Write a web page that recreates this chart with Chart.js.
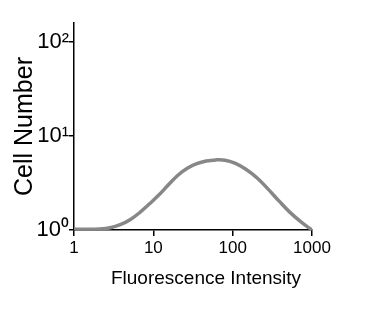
<!DOCTYPE html>
<html>
<head>
<meta charset="utf-8">
<script src="https://cdn.jsdelivr.net/npm/chart.js@4/dist/chart.umd.min.js"></script>
<style>
  html, body { margin: 0; padding: 0; background: #fff; }
  #wrap { width: 369px; height: 314px; }
</style>
</head>
<body>
<div id="wrap"><canvas id="myChart"></canvas></div>
<script>
// fluorescence histogram (log-log)
var intensity = [1, 2.12, 2.95, 3.89, 5.14, 6.78, 8.95, 11.8, 15.5, 20.4, 26.8, 35.3, 46.4, 61.1, 80.3,
                 106.6, 146.8, 202, 278, 383, 528, 726, 1000];
var cellNumber = [1.02, 1.025, 1.063, 1.145, 1.295, 1.54, 1.9, 2.37, 3.03, 3.83, 4.55, 5.08, 5.43, 5.58, 5.54,
                  5.14, 4.44, 3.6, 2.74, 2.04, 1.54, 1.22, 1.0];
var xTicks = [1, 10, 100, 1000];
var yTicks = [1, 10, 100];
var yTickLabels = ["10\u2070", "10\u00b9", "10\u00b2"];
var xTitle = "Fluorescence Intensity";
var yTitle = "Cell Number";

var points = intensity.map(function (x, i) {
    return { x: x, y: cellNumber[i] };
});

var labelFont = 'Liberation Sans, Arial, sans-serif';

// x title sits a bit right of the plot centre in the original
var xTitlePlugin = {
    id: 'xTitle',
    afterDraw: function (chart) {
        var c = chart.ctx;
        c.save();
        c.fillStyle = '#000';
        c.font = '19px ' + labelFont;
        c.textAlign = 'center';
        c.textBaseline = 'middle';
        c.fillText(xTitle, chart.chartArea.left + (chart.chartArea.right - chart.chartArea.left) / 2 + 13, 279);
        c.restore();
    }
};

var ctx = document.getElementById('myChart').getContext('2d');
var chart = new Chart(ctx, {
    type: 'line',
    data: {
        datasets: [{
            label: "Cells",
            data: points,
            borderColor: 'rgb(135, 135, 135)',
            borderWidth: 3.5,
            pointRadius: 0,
            tension: 0.4,
            fill: false
        }]
    },
    options: {
        responsive: true,
        maintainAspectRatio: false,
        animation: false,
        layout: { padding: { left: 0, right: 57, top: 23, bottom: 0 } },
        plugins: { legend: { display: false }, tooltip: { enabled: false } },
        scales: {
            x: {
                type: 'logarithmic',
                min: 1,
                max: 1000,
                afterBuildTicks: function (scale) {
                    scale.ticks = xTicks.map(function (v) { return { value: v }; });
                },
                afterFit: function (scale) { scale.height = 84; },
                ticks: {
                    color: '#000',
                    font: { family: labelFont, size: 17 },
                    padding: 2,
                    maxRotation: 0,
                    callback: function (v) { return String(v); }
                },
                grid: { drawOnChartArea: false, drawTicks: true, tickLength: 6, color: '#000', lineWidth: 1.5 },
                border: { color: '#000', width: 1.5 }
            },
            y: {
                type: 'logarithmic',
                min: 1,
                max: 160,
                afterBuildTicks: function (scale) {
                    scale.ticks = yTicks.map(function (v) { return { value: v }; });
                },
                afterFit: function (scale) { scale.width = 74; },
                ticks: {
                    color: '#000',
                    font: { family: labelFont, size: 22 },
                    padding: 0,
                    callback: function (v) {
                        return yTickLabels[yTicks.indexOf(v)];
                    }
                },
                grid: { drawOnChartArea: false, drawTicks: true, tickLength: 5, color: '#000', lineWidth: 1.5 },
                border: { color: '#000', width: 1.5 },
                title: {
                    display: true,
                    text: yTitle,
                    color: '#000',
                    font: { family: labelFont, size: 25 },
                    padding: { top: 10, bottom: 0 }
                }
            }
        }
    },
    plugins: [xTitlePlugin]
});
</script>
</body>
</html>
